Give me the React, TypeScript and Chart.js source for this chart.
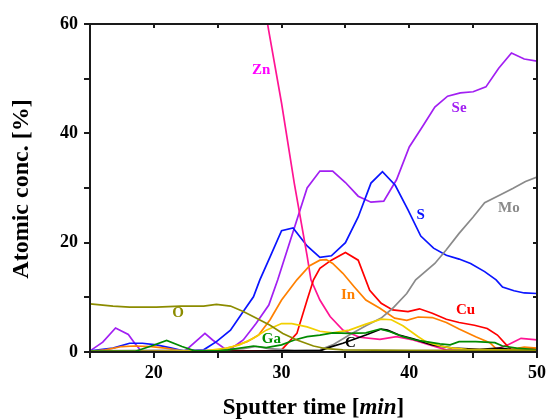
import React, { useEffect, useRef } from "react";
import { Chart, registerables } from "chart.js";

Chart.register(...registerables);

type Pt = [number, number];

const xTickLabels = [20, 30, 40, 50];
const yTickLabels = [0, 20, 40, 60];
const xMinorTicks = [15, 20, 25, 30, 35, 40, 45, 50];
const yMinorTicks = [0, 10, 20, 30, 40, 50, 60];

const seData: Pt[] = [[15,0.2],[16,1.8],[17,4.4],[18,3.2],[18.5,1.6],[19,0.2],[20,0.1],[21,0.2],[22.4,0.1],[24,3.4],[24.6,2.2],[25.8,0.2],[27,2.2],[28,5.2],[29,8.6],[29.7,13.2],[32,30.0],[33,33.1],[34,33.1],[35,31.0],[36,28.5],[37,27.4],[38,27.6],[39,31.5],[40,37.5],[41,41.1],[42,44.8],[43,46.8],[44,47.4],[45,47.6],[46,48.5],[47,51.9],[48,54.7],[49,53.6],[50,53.2]];
const sData: Pt[] = [[15,0.2],[16.8,0.7],[18.1,1.6],[19.1,1.6],[20.2,1.3],[21.4,0.7],[22.3,0.2],[23.9,0.4],[24.9,1.9],[26,4.0],[27,7.4],[27.8,10.1],[28.3,13.2],[29.1,17.4],[30,22.2],[30.9,22.7],[32,19.4],[33,17.3],[33.9,17.6],[35,20.0],[36,24.7],[37,30.9],[37.9,33.0],[38.9,30.5],[39.9,26.0],[40.9,21.2],[41.9,19.0],[42.9,17.7],[43.9,17.0],[44.8,16.2],[45.9,14.7],[46.8,13.2],[47.3,11.9],[48.2,11.2],[49,10.8],[50,10.7]];
const znData: Pt[] = [[28,72.4],[29,58.7],[30,45.5],[31,30.8],[32,17.6],[32.3,13.2],[33,9.5],[33.8,6.5],[34.8,4.0],[36.1,2.7],[37.7,2.3],[39,2.8],[40.3,2.2],[41.6,1.3],[42.9,0.4],[44.5,0.2],[46,0.4],[47,0.7],[47.7,1.3],[48.75,2.5],[50,2.2]];
const cuData: Pt[] = [[15,0.2],[20,0.2],[25,0.2],[29,0.2],[30,0.4],[31.2,3.4],[32,9.5],[32.5,13.2],[33,15.3],[33.9,16.8],[35,18.2],[36,16.8],[36.9,11.3],[37.8,8.9],[38.7,7.7],[39.9,7.4],[40.8,7.9],[41.8,7.1],[42.9,6.0],[43.9,5.4],[45.1,4.9],[46.1,4.3],[46.9,3.1],[47.6,1.3],[48,0.4],[49,0.5],[50,0.6]];
const inData: Pt[] = [[15,0.1],[16.2,0.4],[17.5,1.0],[18.5,1.1],[19.8,1.0],[20.9,0.7],[22.2,0.2],[24,0.2],[25.2,0.4],[26.2,1.0],[27.3,1.9],[28.2,3.1],[29.1,5.9],[30,9.5],[31.2,13.2],[32.2,15.8],[33,16.8],[33.5,16.9],[34,16.2],[34.8,14.4],[35.7,11.9],[36.6,9.5],[37.7,8.0],[38.85,6.2],[39.8,5.8],[40.7,6.4],[41.8,6.3],[42.9,5.4],[43.9,4.2],[45.2,2.8],[46.3,1.7],[46.9,0.4],[48,0.5],[49,0.9],[50,0.7]];
const oData: Pt[] = [[15,8.8],[16.8,8.4],[18.1,8.2],[20.2,8.2],[22.1,8.4],[23.9,8.4],[24.9,8.7],[26,8.4],[27,7.4],[28,6.2],[29.1,4.9],[30.1,3.4],[31.2,2.2],[32.5,1.1],[33.5,0.6],[34.8,0.4],[40,0.3],[45,0.3],[50,0.3]];
const yellowData: Pt[] = [[15,0.1],[20,0.1],[24,0.2],[25.7,0.7],[26.7,1.3],[27.8,2.5],[28.8,4.0],[30,5.2],[30.8,5.2],[32,4.6],[33,3.8],[34,3.5],[35.3,4.0],[36.6,5.1],[37.8,6.0],[38.6,5.9],[39.5,4.8],[40.7,2.8],[41.3,1.9],[42.4,1.1],[43.4,0.7],[44.5,0.5],[47,0.4],[50,0.3]];
const gaData: Pt[] = [[15,0.1],[18.5,0.1],[19.8,1.1],[21,2.1],[22.2,1.0],[23.2,0.2],[25,0.2],[25.8,0.4],[27.8,1.1],[28.8,0.8],[30,1.3],[31,2.2],[32,2.8],[33,3.1],[34,3.5],[35.3,3.4],[36.6,3.5],[37.7,4.2],[38.5,3.7],[39.5,2.8],[40.5,2.2],[41.3,1.9],[42.4,1.5],[43.2,1.3],[43.9,1.9],[45.2,1.9],[46.7,1.7],[47.3,1.1],[48.4,0.7],[50,0.4]];
const moData: Pt[] = [[15,0.2],[20,0.3],[25,0.3],[27,0.6],[28,1.0],[29,0.6],[31,0.3],[33,0.4],[34,1.3],[35.3,3.1],[36.6,4.8],[37.8,6.2],[38.7,8.0],[39.8,10.7],[40.5,13.2],[42,16.2],[42.9,18.7],[43.9,21.7],[45,24.7],[45.9,27.3],[47.1,28.7],[48.1,29.9],[49.1,31.2],[50,32.0]];
const cData: Pt[] = [[15,0.1],[25,0.1],[30,0.2],[33,0.2],[33.8,0.9],[34.8,1.6],[36.6,3.1],[37.8,4.2],[38.3,4.0],[39.2,3.1],[40.3,2.4],[41.8,1.3],[43.4,0.7],[45.5,0.5],[47.1,0.7],[48.5,0.3],[50,0.3]];

const seriesNames = ["O", "Ga", "Yellow", "C", "Mo", "In", "Cu", "Zn", "S", "Se"];
const seriesColors = ["#8c8c00", "#008a00", "#f2d000", "#000000", "#8a8a8a", "#ff8000", "#ff0000", "#ff1493", "#0a14ff", "#a21ff2"];
const seriesValues: Pt[][] = [oData, gaData, yellowData, cData, moData, inData, cuData, znData, sData, seData];

const labelTexts = ["Zn", "Se", "S", "Mo", "In", "Cu", "O", "Ga", "C"];
const labelX = [28.4, 43.9, 40.9, 47.8, 35.2, 44.4, 21.9, 29.2, 35.4];
const labelY = [51.6, 44.6, 25.1, 26.3, 10.4, 7.7, 7.1, 2.4, 1.6];
const labelColors = ["#ff00ff", "#a21ff2", "#0a14ff", "#8a8a8a", "#ff8000", "#ff0000", "#8c8c00", "#009000", "#000000"];

const SERIF = '"Liberation Serif", "Times New Roman", serif';

const decorPlugin = {
  id: "decor",
  afterDraw(chart: any) {
    const ctx = chart.ctx as CanvasRenderingContext2D;
    const { left, right, top, bottom } = chart.chartArea;
    const xs = chart.scales.x;
    const ys = chart.scales.y;
    ctx.save();
    // series labels
    ctx.font = `bold 15px ${SERIF}`;
    ctx.textAlign = "center";
    ctx.textBaseline = "middle";
    labelTexts.forEach((t, i) => {
      ctx.fillStyle = labelColors[i];
      ctx.fillText(t, xs.getPixelForValue(labelX[i]), ys.getPixelForValue(labelY[i]));
    });
    // frame
    ctx.strokeStyle = "#1a1a1a";
    ctx.lineWidth = 2;
    ctx.strokeRect(left, top, right - left, bottom - top);
    // ticks
    ctx.beginPath();
    xMinorTicks.forEach((v) => {
      const px = Math.round(xs.getPixelForValue(v));
      ctx.moveTo(px, bottom);
      ctx.lineTo(px, bottom + 6);
      ctx.moveTo(px, top);
      ctx.lineTo(px, top + 4);
    });
    yMinorTicks.forEach((v) => {
      const py = Math.round(ys.getPixelForValue(v));
      ctx.moveTo(left, py);
      ctx.lineTo(left - 6, py);
      ctx.moveTo(right, py);
      ctx.lineTo(right - 4, py);
    });
    ctx.stroke();
    // axis titles
    ctx.fillStyle = "#000";
    ctx.textBaseline = "middle";
    ctx.save();
    ctx.translate(22, (top + bottom) / 2 + 1);
    ctx.rotate(-Math.PI / 2);
    ctx.font = `bold 24px ${SERIF}`;
    ctx.textAlign = "center";
    ctx.fillText("Atomic conc. [%]", 0, 0);
    ctx.restore();
    const parts: [string, boolean][] = [["Sputter time [", false], ["min", true], ["]", false]];
    let total = 0;
    parts.forEach(([s, it]) => {
      ctx.font = `${it ? "italic " : ""}bold 23px ${SERIF}`;
      total += ctx.measureText(s).width;
    });
    let cx = (left + right) / 2 - total / 2;
    ctx.textAlign = "left";
    parts.forEach(([s, it]) => {
      ctx.font = `${it ? "italic " : ""}bold 23px ${SERIF}`;
      ctx.fillText(s, cx, 408);
      cx += ctx.measureText(s).width;
    });
    ctx.restore();
  },
};

export default function App() {
  const ref = useRef<HTMLCanvasElement | null>(null);
  useEffect(() => {
    if (!ref.current) return;
    const chart = new Chart(ref.current, {
      type: "line",
      data: {
        datasets: seriesNames.map((n, i) => ({
          label: n,
          data: seriesValues[i].map(([x, y]) => ({ x, y })),
          borderColor: seriesColors[i],
          backgroundColor: seriesColors[i],
          borderWidth: 1.7,
          pointRadius: 0,
          tension: 0,
          fill: false,
        })),
      },
      options: {
        responsive: false,
        animation: false,
        devicePixelRatio: 1,
        layout: { padding: { top: 24, right: 9, left: 0, bottom: 0 } },
        plugins: { legend: { display: false }, tooltip: { enabled: false } },
        scales: {
          x: {
            type: "linear",
            min: 15,
            max: 50,
            afterBuildTicks: (s: any) => {
              s.ticks = xTickLabels.map((v) => ({ value: v }));
            },
            afterFit: (s: any) => {
              s.height = 68;
              s.paddingLeft = 0;
              s.paddingRight = 0;
            },
            grid: { drawOnChartArea: false, drawTicks: true, tickLength: 6, color: "rgba(0,0,0,0)" },
            border: { display: false },
            ticks: {
              color: "#000",
              padding: 5,
              maxRotation: 0,
              font: { family: SERIF, size: 18, weight: "bold" },
            },
          },
          y: {
            type: "linear",
            min: 0,
            max: 60,
            afterBuildTicks: (s: any) => {
              s.ticks = yTickLabels.map((v) => ({ value: v }));
            },
            afterFit: (s: any) => {
              s.width = 90;
              s.paddingTop = 0;
              s.paddingBottom = 0;
            },
            grid: { drawOnChartArea: false, drawTicks: true, tickLength: 6, color: "rgba(0,0,0,0)" },
            border: { display: false },
            ticks: {
              color: "#000",
              padding: 6,
              font: { family: SERIF, size: 18, weight: "bold" },
            },
          },
        },
      },
      plugins: [decorPlugin],
    } as any);
    return () => chart.destroy();
  }, []);
  return (
    <div style={{ position: "fixed", left: 0, top: 0, width: 546, height: 420, background: "#fff" }}>
      <canvas ref={ref} width={546} height={420} style={{ display: "block" }} />
    </div>
  );
}
